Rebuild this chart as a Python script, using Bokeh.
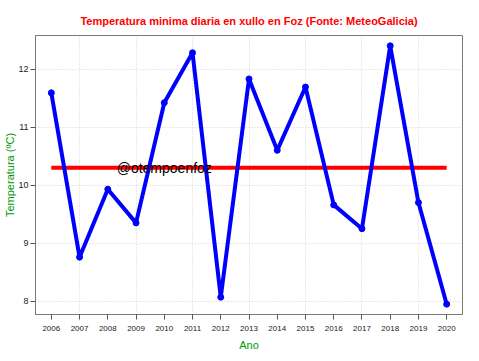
from bokeh.plotting import figure
from bokeh.models import FixedTicker, Label, ColumnDataSource, Range1d, Title
from bokeh.embed import file_html
from bokeh.resources import INLINE

years = [2006, 2007, 2008, 2009, 2010, 2011, 2012, 2013, 2014, 2015, 2016, 2017, 2018, 2019, 2020]
tmin = [11.59, 8.76, 9.93, 9.35, 11.42, 12.28, 8.07, 11.83, 10.60, 11.69, 9.66, 9.25, 12.40, 9.70, 7.95]
y_ticks = [8, 9, 10, 11, 12]
grid_years = [2007, 2009, 2011, 2013, 2015, 2017, 2019]

title_text = "Temperatura minima diaria en xullo en Foz (Fonte: MeteoGalicia)"
x_label = "Ano"
y_label = "Temperatura (\u00baC)"
watermark = "@otempoenfoz"

mean_val = sum(tmin) / len(tmin)

span_x = max(years) - min(years)
span_y = max(tmin) - min(tmin)

p = figure(width=471, height=353, output_backend="svg", toolbar_location=None,
           x_range=Range1d(min(years) - 0.04 * span_x, max(years) + 0.04 * span_x),
           y_range=Range1d(min(tmin) - 0.04 * span_y, max(tmin) + 0.04 * span_y),
           min_border_left=35, min_border_right=9, min_border_top=35, min_border_bottom=37)

p.background_fill_color = "white"
p.border_fill_color = "white"
p.outline_line_color = "#7a7a7a"
p.outline_line_width = 1

p.title.text = title_text
p.title.align = "center"
p.title.text_color = "#FF0000"
p.title.text_font = "Liberation Sans"
p.title.text_font_style = "bold"
p.title.text_font_size = "11px"
p.title.standoff = 17

# y axis title as a left-side title
p.add_layout(Title(text=y_label, align="center", text_color="#009900",
                   text_font="Liberation Sans", text_font_style="normal",
                   text_font_size="11px", standoff=0), "left")

# axes
p.xaxis.ticker = FixedTicker(ticks=years)
p.yaxis.ticker = FixedTicker(ticks=y_ticks)
for ax in (p.xaxis[0], p.yaxis[0]):
    ax.axis_line_color = "#7a7a7a"
    ax.major_tick_line_color = "#555555"
    ax.major_tick_out = 5
    ax.major_tick_in = 0
    ax.minor_tick_line_color = None
    ax.major_label_text_font = "Liberation Sans"
    ax.major_label_text_color = "#222222"
p.xaxis.major_label_text_font_size = "8px"
p.yaxis.major_label_text_font_size = "9px"
p.xaxis.major_label_standoff = 6
p.yaxis.major_label_standoff = 2
p.xaxis.axis_label = x_label
p.xaxis.axis_label_text_color = "#009900"
p.xaxis.axis_label_text_font = "Liberation Sans"
p.xaxis.axis_label_text_font_style = "normal"
p.xaxis.axis_label_text_font_size = "11px"
p.xaxis.axis_label_standoff = 5

# grids
p.xgrid.ticker = FixedTicker(ticks=grid_years)
p.ygrid.ticker = FixedTicker(ticks=y_ticks)
for g in (p.xgrid[0], p.ygrid[0]):
    g.grid_line_color = "#d3d3d3"
    g.grid_line_dash = "1 2"
    g.grid_line_width = 1

src = ColumnDataSource(dict(x=years, y=tmin))

# mean line
p.line([years[0], years[-1]], [mean_val, mean_val], line_color="#FF0000", line_width=4)

# series
p.line("x", "y", source=src, line_color="#0000FF", line_width=4,
       line_cap="round", line_join="round")
p.scatter("x", "y", source=src, size=6, marker="circle",
          fill_color="#0000FF", line_color="#0000FF")

# watermark
p.add_layout(Label(x=2010, y=mean_val, text=watermark, text_align="center",
                   text_baseline="middle", text_font="Liberation Sans",
                   text_font_size="14px", text_color="black"))

open("out.html", "w").write(file_html(p, INLINE))
